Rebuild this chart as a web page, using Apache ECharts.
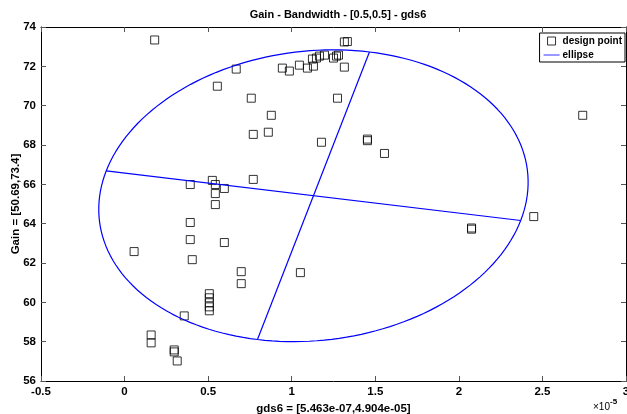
<!DOCTYPE html>
<html>
<head>
<meta charset="utf-8">
<script src="https://cdn.jsdelivr.net/npm/echarts@6/dist/echarts.min.js"></script>
<style>html,body{margin:0;padding:0;background:#fff}#c{width:627px;height:414px}</style>
</head>
<body>
<div id="c"></div>
<script>
// design points (x in units of 1e-5)
const designX = [0.18, 1.315, 1.333, 0.944, 0.986, 1.046, 1.094, 1.130, 1.124, 1.148, 1.166, 1.196, 1.250, 1.268, 1.280, 1.315, 0.668, 0.555, 0.758, 0.878, 0.770, 0.860, 1.274, 1.178, 1.453, 1.453, 1.555, 2.741, 2.448, 2.076, 2.076, 0.770, 0.393, 0.525, 0.543, 0.597, 0.543, 0.543, 0.393, 0.393, 0.597, 0.057, 0.405, 0.698, 0.698, 0.507, 0.507, 0.507, 0.507, 0.507, 0.357, 0.159, 0.159, 0.297, 0.297, 0.315, 1.052];
const designY = [73.34, 73.24, 73.26, 71.91, 71.76, 72.06, 71.91, 72.01, 72.37, 72.42, 72.52, 72.57, 72.42, 72.52, 72.57, 71.96, 71.86, 70.99, 70.38, 69.51, 68.54, 68.65, 70.38, 68.14, 68.30, 68.22, 67.57, 69.51, 64.36, 63.78, 63.72, 66.25, 65.99, 66.20, 65.99, 65.79, 65.53, 64.97, 64.06, 63.19, 63.04, 62.58, 62.17, 61.56, 60.95, 60.44, 60.23, 59.98, 59.77, 59.57, 59.31, 58.34, 57.94, 57.58, 57.48, 57.02, 61.51];
// ellipse parameters
const ellipseCenter = [1.13, 65.42];
const majorAxisEnd = [2.37, 64.16];
const minorAxisEnd = [1.465, 72.73];
// axis ticks
const xTicks = { min: -0.5, max: 3, step: 0.5 };
const yTicks = { min: 56, max: 74, step: 2 };

const points = designX.map((x, i) => [x, designY[i]]);
const A = [majorAxisEnd[0] - ellipseCenter[0], majorAxisEnd[1] - ellipseCenter[1]];
const B = [minorAxisEnd[0] - ellipseCenter[0], minorAxisEnd[1] - ellipseCenter[1]];
const ellipsePts = [];
for (let k = 0; k <= 180; k++) {
  const t = k / 180 * 2 * Math.PI;
  ellipsePts.push([ellipseCenter[0] + A[0] * Math.cos(t) + B[0] * Math.sin(t),
                   ellipseCenter[1] + A[1] * Math.cos(t) + B[1] * Math.sin(t)]);
}
const majorLine = [[ellipseCenter[0] - A[0], ellipseCenter[1] - A[1]], majorAxisEnd];
const minorLine = [[ellipseCenter[0] - B[0], ellipseCenter[1] - B[1]], minorAxisEnd];

const FONT = 'Liberation Sans, Arial, Helvetica, sans-serif';
const chart = echarts.init(document.getElementById('c'), null, { renderer: 'canvas' });
const axisCommon = {
  axisLine: { onZero: false, lineStyle: { color: '#000', width: 1 } },
  axisTick: { inside: true, length: 5, lineStyle: { color: '#555', width: 1 } },
  splitLine: { show: false }
};
const lineCommon = { type: 'line', symbol: 'none', silent: true, animation: false,
  lineStyle: { color: '#0000ff', width: 1.2 }, itemStyle: { color: '#0000ff' } };
chart.setOption({
  animation: false,
  title: {
    text: 'Gain - Bandwidth - [0.5,0.5] - gds6',
    left: 333, top: 4, textAlign: 'center',
    textStyle: { fontFamily: FONT, fontSize: 11, fontWeight: 'bold', color: '#000' }
  },
  legend: {
    right: 2, top: 33, orient: 'vertical',
    itemWidth: 16, itemHeight: 8, itemGap: 4,
    padding: [3, 3, 2, 4],
    borderColor: '#000', borderWidth: 1, backgroundColor: '#fff',
    textStyle: { fontFamily: FONT, fontSize: 10, fontWeight: 'bold', color: '#000', padding: [0, 0, 0, -2] },
    data: [
      { name: 'design point', icon: 'path://M0,0 L10,0 L10,10 L0,10 Z',
        itemStyle: { color: 'rgba(255,255,255,0)', borderColor: '#000', borderWidth: 1 } },
      { name: 'ellipse', icon: 'path://M0,0 L32,0 L32,1.6 L0,1.6 Z',
        itemStyle: { color: '#0000ff', borderWidth: 0 } }
    ]
  },
  grid: { left: 41, right: 1, top: 27, bottom: 33, containLabel: false, outerBoundsMode: 'none' },
  xAxis: [
    Object.assign({}, axisCommon, {
      type: 'value', min: xTicks.min, max: xTicks.max, interval: xTicks.step,
      name: 'gds6 = [5.463e-07,4.904e-05]', nameLocation: 'middle', nameGap: 20,
      nameTextStyle: { fontFamily: FONT, fontSize: 11.5, fontWeight: 'bold', color: '#000' },
      axisLabel: { fontFamily: FONT, fontSize: 11.5, fontWeight: 'bold', color: '#000', margin: 5 }
    }),
    Object.assign({}, axisCommon, {
      type: 'value', position: 'top', min: xTicks.min, max: xTicks.max, interval: xTicks.step,
      axisLabel: { show: false }
    })
  ],
  yAxis: [
    Object.assign({}, axisCommon, {
      type: 'value', min: yTicks.min, max: yTicks.max, interval: yTicks.step,
      name: 'Gain = [50.69,73.4]', nameLocation: 'middle', nameGap: 19, nameMoveOverlap: false,
      nameTextStyle: { fontFamily: FONT, fontSize: 11.5, fontWeight: 'bold', color: '#000' },
      axisLabel: { fontFamily: FONT, fontSize: 11.5, fontWeight: 'bold', color: '#000', margin: 5 }
    }),
    Object.assign({}, axisCommon, {
      type: 'value', position: 'right', min: yTicks.min, max: yTicks.max, interval: yTicks.step,
      axisLabel: { show: false }
    })
  ],
  graphic: [{
    type: 'text', left: 593, top: 398,
    style: {
      text: '{a|×10}{b|-5}',
      rich: {
        a: { fontFamily: FONT, fontSize: 10, color: '#000', verticalAlign: 'bottom' },
        b: { fontFamily: FONT, fontSize: 8, fontWeight: 'bold', color: '#000', verticalAlign: 'top', padding: [0, 0, 6, 0] }
      }
    }
  }],
  series: [
    {
      name: 'design point', type: 'scatter', data: points,
      symbol: 'rect', symbolSize: 8,
      itemStyle: { color: 'rgba(255,255,255,0)', borderColor: '#000', borderWidth: 1 }
    },
    Object.assign({}, lineCommon, { name: 'ellipse', data: ellipsePts }),
    Object.assign({}, lineCommon, { name: 'ellipse', data: majorLine }),
    Object.assign({}, lineCommon, { name: 'ellipse', data: minorLine })
  ]
});
</script>
</body>
</html>
